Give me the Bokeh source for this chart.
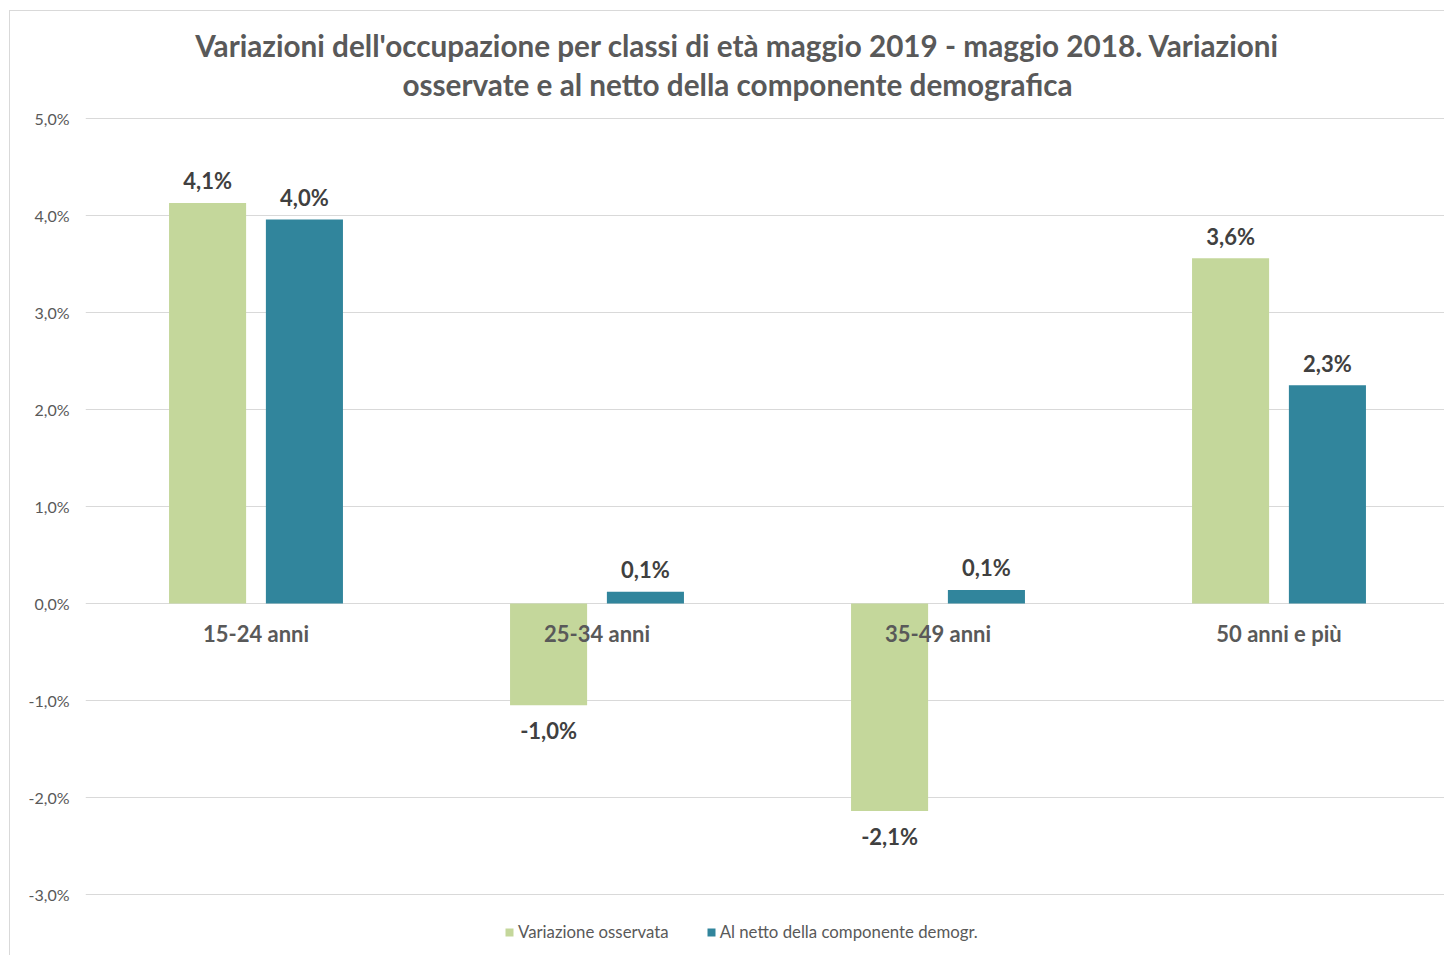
from bokeh.plotting import figure
from bokeh.models import Range1d, FixedTicker, Legend, LegendItem
from bokeh.embed import file_html
from bokeh.resources import INLINE
from bokeh.core.properties import value

# ---- data ----
categories = ["15-24 anni", "25-34 anni", "35-49 anni", "50 anni e più"]
observed = [4.13, -1.05, -2.14, 3.56]
net = [3.96, 0.12, 0.14, 2.25]
observed_labels = ["4,1%", "-1,0%", "-2,1%", "3,6%"]
net_labels = ["4,0%", "0,1%", "0,1%", "2,3%"]
series_names = ["Variazione osservata", "Al netto della componente demogr."]
y_ticks = [-3, -2, -1, 0, 1, 2, 3, 4, 5]
y_tick_labels = ["-3,0%", "-2,0%", "-1,0%", "0,0%", "1,0%", "2,0%", "3,0%", "4,0%", "5,0%"]
title_lines = [
    "Variazioni dell'occupazione per classi di età maggio 2019 - maggio 2018. Variazioni",
    "osservate e al netto della componente demografica",
]

# ---- style ----
GREEN = "#C4D79B"
TEAL = "#31859C"
GRID = "#D9D9D9"
GREY = "#595959"
DARK = "#404040"
FONT = "Lato"

W, H = 1435, 945          # canvas (page offset 10, 11 incl. border)
PX_X, PX_Y = 341, 97      # pixels per data unit
ZERO_Y = 603 - 11         # zero line, canvas px from top
LEFT = 75                 # frame left, canvas px

p = figure(width=W, height=H, output_backend="svg", toolbar_location=None,
           x_axis_location=None,
           x_range=Range1d(0, (W - LEFT) / PX_X),
           y_range=Range1d(-(H - ZERO_Y) / PX_Y, ZERO_Y / PX_Y))
p.styles = {"border-top": "1px solid #D9D9D9", "border-left": "1px solid #D9D9D9",
            "margin-left": "9px", "margin-top": "10px"}
p.min_border_left = LEFT
p.min_border_right = 0
p.min_border_top = 0
p.min_border_bottom = 0
p.outline_line_color = None
p.background_fill_color = "white"
p.border_fill_color = "white"

p.xgrid.visible = False
p.ygrid.ticker = FixedTicker(ticks=y_ticks)
p.ygrid.grid_line_color = GRID
p.ygrid.grid_line_width = 1
p.yaxis.ticker = FixedTicker(ticks=y_ticks)
p.yaxis.major_label_overrides = {t: l for t, l in zip(y_ticks, y_tick_labels)}
p.yaxis.axis_line_color = None
p.yaxis.major_tick_line_color = None
p.yaxis.minor_tick_line_color = None
p.yaxis.major_tick_out = 0
p.yaxis.major_tick_in = 0
p.yaxis.major_label_standoff = 16
p.yaxis.major_label_text_font = FONT
p.yaxis.major_label_text_font_size = "16px"
p.yaxis.major_label_text_color = GREY

bw = 0.226
off = 0.142
centers = [i + 0.5 for i in range(len(categories))]
x_obs = [c - off for c in centers]
x_net = [c + off for c in centers]

r1 = p.vbar(x=x_obs, top=observed, bottom=0, width=bw, fill_color=GREEN, line_color=None)
r2 = p.vbar(x=x_net, top=net, bottom=0, width=bw, fill_color=TEAL, line_color=None)

def offs(vals):
    return [-22 if v >= 0 else 25 for v in vals]

for xs, vals, labs in [(x_obs, observed, observed_labels), (x_net, net, net_labels)]:
    p.text(x=xs, y=vals, text=labs, y_offset=offs(vals),
           text_align="center", text_baseline="middle", text_font=value(FONT),
           text_font_style="bold", text_font_size="22px", text_color=DARK)

p.text(x=centers, y=[0] * len(centers), text=categories, y_offset=30,
       text_align="center", text_baseline="middle", text_font=value(FONT),
       text_font_style="bold", text_font_size="22px", text_color=GREY)

# title (two lines), positioned in screen px converted to data units
title_x = (737 - 85) / PX_X
title_y = [(ZERO_Y - (45 - 11)) / PX_Y, (ZERO_Y - (84 - 11)) / PX_Y]
p.text(x=[title_x] * 2, y=title_y, text=title_lines,
       text_align="center", text_baseline="middle", text_font=value(FONT),
       text_font_style="bold", text_font_size="29.7px", text_color=GREY)

legend = Legend(items=[LegendItem(label=series_names[0], renderers=[r1]),
                       LegendItem(label=series_names[1], renderers=[r2])],
                orientation="horizontal", location=(504 - 85, 956 - 942))
legend.glyph_width = 10
legend.glyph_height = 10
legend.label_standoff = 4
legend.spacing = 37
legend.padding = 0
legend.margin = 0
legend.border_line_color = None
legend.background_fill_alpha = 0
legend.label_text_font = FONT
legend.label_text_font_size = "16.8px"
legend.label_text_color = GREY
p.add_layout(legend, "center")

open("out.html", "w").write(file_html(p, INLINE))
